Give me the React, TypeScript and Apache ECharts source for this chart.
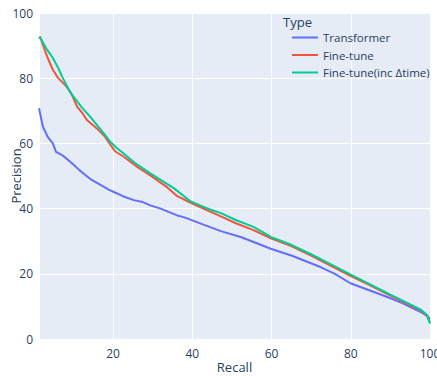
import React, { useEffect, useRef } from "react";
import * as echarts from "echarts";

const seriesNames = ["Transformer", "Fine-tune", "Fine-tune(inc Δtime)"];
const seriesColors = ["#636efa", "#EF553B", "#00cc96"];

const transformerX = [1.3, 2.3, 3.5, 4.8, 5.6, 7.0, 8.2, 10.0, 11.5, 13.0, 14.7, 16.5, 18.9, 20.2, 22.5, 25.2, 27.5, 29.4, 32, 34, 36.2, 38, 40, 43, 47.2, 52.2, 55, 59.8, 65, 72.5, 76, 79.9, 85, 89.4, 93, 97.8, 99.3, 100];
const transformerY = [70.8, 65.1, 62.0, 60.0, 57.4, 56.5, 55.4, 53.5, 51.8, 50.3, 48.7, 47.5, 45.8, 45.1, 43.8, 42.6, 42.0, 41, 40.0, 39.0, 37.9, 37.3, 36.4, 35.0, 33.1, 31.3, 30.0, 27.7, 25.6, 22.0, 20.0, 17.1, 14.8, 12.8, 11.0, 8.2, 7.0, 6.2];

const fineTuneX = [1.4, 1.6, 2.5, 3.5, 4.8, 6.1, 8.2, 9.4, 10.9, 12.2, 13.4, 15.9, 18.0, 19.3, 20.5, 22.7, 26.1, 29.4, 33.7, 36.2, 39.6, 43.8, 47.2, 51, 55.6, 59.8, 65, 70, 75, 79.9, 85, 90, 95, 97.8, 99.2, 100];
const fineTuneY = [92.0, 92.8, 89.5, 86.2, 82.6, 80.1, 77.5, 75.5, 71.3, 69.4, 67.2, 64.6, 62.0, 59.6, 57.6, 55.9, 52.8, 50.2, 46.5, 43.8, 41.8, 39.5, 37.6, 35.5, 33.3, 30.9, 28.5, 25.6, 22.4, 19.4, 16.4, 13.3, 10.3, 8.7, 7.2, 5.1];

const fineTuneDtX = [1.3, 1.6, 3.2, 4.8, 6.0, 7.3, 9.2, 10.3, 12.0, 14.2, 16.0, 17.5, 19.3, 21.0, 22.0, 25.2, 29.4, 35.4, 39.6, 43.5, 47.2, 51, 55.6, 59.8, 65, 70, 75, 79.9, 85, 90, 95, 97.8, 99.3, 100];
const fineTuneDtY = [92.5, 92.4, 89.0, 86.2, 83.5, 80.1, 75.6, 73.9, 71.2, 68.2, 65.5, 63.3, 60.5, 58.5, 57.6, 54.3, 50.8, 46.2, 42.2, 40.2, 38.6, 36.5, 34.3, 31.3, 28.9, 26.0, 22.9, 19.8, 16.7, 13.6, 10.6, 8.9, 7.3, 4.7];

const xs = [transformerX, fineTuneX, fineTuneDtX];
const ys = [transformerY, fineTuneY, fineTuneDtY];

const FONT = "'Open Sans', verdana, arial, sans-serif";
const TEXT = "#2a3f5f";

export default function App() {
  const ref = useRef<HTMLDivElement>(null);
  useEffect(() => {
    if (!ref.current) return;
    const chart = echarts.init(ref.current, undefined, { renderer: "svg" });
    chart.setOption({
      animation: false,
      backgroundColor: "#ffffff",
      textStyle: { fontFamily: FONT, color: TEXT },
      title: {
        text: "Type",
        left: 278,
        top: 10,
        textStyle: { fontFamily: FONT, color: TEXT, fontSize: 13, fontWeight: "normal" },
      },
      legend: {
        orient: "vertical",
        left: 287,
        top: 25.5,
        icon: "rect",
        itemWidth: 26,
        itemHeight: 2,
        itemGap: 3.5,
        textStyle: { fontFamily: FONT, color: TEXT, fontSize: 11.5, lineHeight: 14 },
        data: seriesNames,
      },
      grid: {
        left: 39,
        right: 7,
        top: 13,
        bottom: 37,
        show: true,
        backgroundColor: "#E5ECF6",
        borderWidth: 0,
        containLabel: false,
        outerBoundsMode: "none",
      },
      xAxis: {
        type: "value",
        min: 1.3,
        max: 100,
        splitNumber: 5,
        name: "Recall",
        nameLocation: "middle",
        nameGap: 21,
        nameMoveOverlap: false,
        nameTextStyle: { fontFamily: FONT, color: TEXT, fontSize: 13, lineHeight: 13 },
        axisLine: { show: false },
        axisTick: { show: false },
        axisLabel: { showMinLabel: false, color: TEXT, fontSize: 12, fontFamily: FONT, margin: 8 },
        splitLine: { show: true, lineStyle: { color: "#ffffff", width: 1 } },
      },
      yAxis: {
        type: "value",
        min: 0,
        max: 100,
        interval: 20,
        name: "Precision",
        nameLocation: "middle",
        nameGap: 17,
        nameMoveOverlap: false,
        nameTextStyle: { fontFamily: FONT, color: TEXT, fontSize: 13 },
        axisLine: { show: false },
        axisTick: { show: false },
        axisLabel: { color: TEXT, fontSize: 12, fontFamily: FONT, margin: 6 },
        splitLine: { show: true, lineStyle: { color: "#ffffff", width: 1 } },
      },
      series: seriesNames.map((name, i) => ({
        name,
        type: "line",
        symbol: "none",
        color: seriesColors[i],
        lineStyle: { width: 2, color: seriesColors[i] },
        data: xs[i].map((x, j) => [x, ys[i][j]]),
      })),
    });
    return () => chart.dispose();
  }, []);
  return <div ref={ref} style={{ width: 437, height: 376, position: "absolute", left: 0, top: 0 }} />;
}
